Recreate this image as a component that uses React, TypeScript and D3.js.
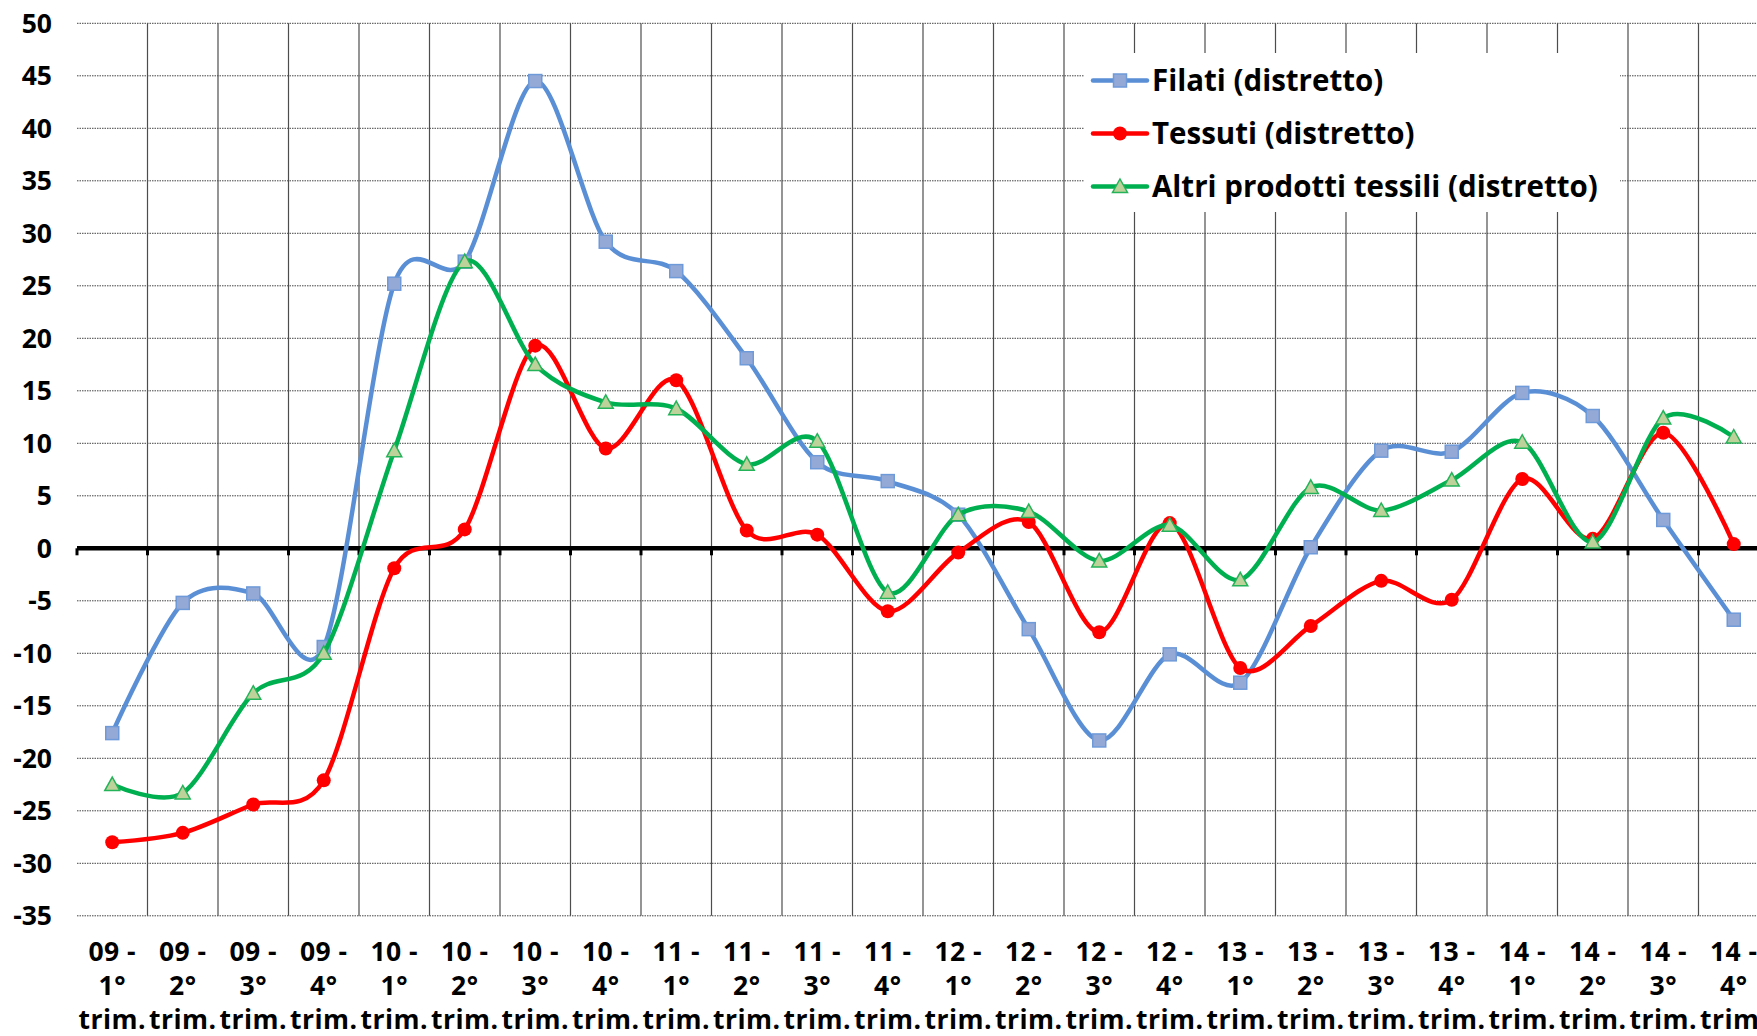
import React from "react";
import * as d3 from "d3";

const categories = [
  "09 - 1° trim.", "09 - 2° trim.", "09 - 3° trim.", "09 - 4° trim.",
  "10 - 1° trim.", "10 - 2° trim.", "10 - 3° trim.", "10 - 4° trim.",
  "11 - 1° trim.", "11 - 2° trim.", "11 - 3° trim.", "11 - 4° trim.",
  "12 - 1° trim.", "12 - 2° trim.", "12 - 3° trim.", "12 - 4° trim.",
  "13 - 1° trim.", "13 - 2° trim.", "13 - 3° trim.", "13 - 4° trim.",
  "14 - 1° trim.", "14 - 2° trim.", "14 - 3° trim.", "14 - 4° trim.",
];

const filati = [
  -17.6, -5.2, -4.3, -9.4, 25.2, 27.3, 44.5, 29.2, 26.4, 18.1, 8.2, 6.4,
  3.2, -7.7, -18.3, -10.1, -12.8, 0.1, 9.3, 9.2, 14.8, 12.6, 2.7, -6.8,
];
const tessuti = [
  -28.0, -27.1, -24.4, -22.1, -1.9, 1.8, 19.3, 9.5, 16.0, 1.7, 1.3, -6.0,
  -0.4, 2.5, -8.0, 2.4, -11.4, -7.4, -3.1, -4.9, 6.6, 0.9, 11.0, 0.4,
];
const altri = [
  -22.5, -23.3, -13.8, -10.0, 9.3, 27.3, 17.5, 13.9, 13.3, 8.0, 10.2, -4.2,
  3.2, 3.5, -1.2, 2.2, -3.0, 5.8, 3.6, 6.5, 10.1, 0.6, 12.4, 10.6,
];

const yTicks = [50, 45, 40, 35, 30, 25, 20, 15, 10, 5, 0, -5, -10, -15, -20, -25, -30, -35];

const seriesNames = ["Filati (distretto)", "Tessuti (distretto)", "Altri prodotti tessili (distretto)"];

const W = 1757;
const H = 1036;
const FONT = "'Open Sans', 'DejaVu Sans', sans-serif";

const series = [
  { name: seriesNames[0], values: filati, color: "#5A8FD6", marker: "square", fill: "#95A9D6", stroke: "#6F9AD9" },
  { name: seriesNames[1], values: tessuti, color: "#FF0000", marker: "circle", fill: "#FF0000", stroke: "#FF0000" },
  { name: seriesNames[2], values: altri, color: "#00B050", marker: "triangle", fill: "#BCD29A", stroke: "#25B35A" },
];

function Marker({ type, cx, cy, fill, stroke }) {
  if (type === "square") {
    return <rect x={cx - 6.5} y={cy - 6.5} width={13} height={13} fill={fill} stroke={stroke} strokeWidth={1.5} />;
  }
  if (type === "circle") {
    return <circle cx={cx} cy={cy} r={7} fill={fill} />;
  }
  const s = 7.5;
  return (
    <path
      d={`M${cx},${cy - s}L${cx + s},${cy + s * 0.8}L${cx - s},${cy + s * 0.8}Z`}
      fill={fill}
      stroke={stroke}
      strokeWidth={1.5}
    />
  );
}

export default function App() {
  const x = d3.scaleBand().domain(categories).range([77, 77 + 24 * 70.5]).padding(0);
  const y = d3.scaleLinear().domain([-35, 50]).range([915.8, 23.3]);
  const cx = (c) => x(c) + x.bandwidth() / 2;

  const line = d3
    .line()
    .x((d, i) => cx(categories[i]))
    .y((d) => y(d))
    .curve(d3.curveCardinal.tension(0.1));

  const [x0, x1] = x.range();
  const boundaries = categories.map((c) => x(c)).concat([x1]);

  return (
    <div style={{ position: "absolute", left: 0, top: 0 }}>
      <svg width={W} height={H} style={{ display: "block", background: "#fff" }}>
        {/* horizontal dotted gridlines */}
        {yTicks.map((t) => (
          <line
            key={"h" + t}
            x1={x0}
            x2={x1}
            y1={y(t)}
            y2={y(t)}
            stroke="#444"
            strokeWidth={1}
            strokeDasharray="1.5 1"
          />
        ))}
        {/* vertical gridlines at category boundaries */}
        {boundaries.slice(1).map((bx, i) => (
          <line key={"v" + i} x1={bx} x2={bx} y1={y(50)} y2={y(-35)} stroke="#4d4d4d" strokeWidth={1.2} />
        ))}

        {/* legend background */}
        <rect x={1084} y={53} width={536} height={159} fill="#fff" />

        {/* zero axis */}
        <line x1={x0} x2={x1} y1={y(0)} y2={y(0)} stroke="#000" strokeWidth={4.5} />
        {boundaries.map((bx, i) => (
          <line key={"t" + i} x1={bx} x2={bx} y1={y(0)} y2={y(0) + 7} stroke="#000" strokeWidth={3} />
        ))}

        {/* y tick labels */}
        {yTicks.map((t) => (
          <text
            key={"yl" + t}
            x={52}
            y={y(t)}
            dy="0.36em"
            textAnchor="end"
            fontFamily={FONT}
            fontWeight="bold"
            fontSize={26.5}
            fill="#000"
          >
            {t}
          </text>
        ))}

        {/* x labels */}
        {categories.map((c) => {
          const parts = c.split(" ");
          const lines = [parts[0] + " " + parts[1], parts[2], parts[3]];
          return (
            <text
              key={"xl" + c}
              x={cx(c)}
              textAnchor="middle"
              fontFamily={FONT}
              fontWeight="bold"
              fontSize={26.5}
              letterSpacing={0.5}
              fill="#000"
            >
              {lines.map((l, i) => (
                <tspan key={i} x={cx(c)} y={961 + i * 34}>
                  {l}
                </tspan>
              ))}
            </text>
          );
        })}

        {/* series */}
        {series.map((s) => (
          <g key={s.name}>
            <path d={line(s.values)} fill="none" stroke={s.color} strokeWidth={4.5} strokeLinejoin="round" />
            {s.values.map((v, i) => (
              <Marker key={i} type={s.marker} cx={cx(categories[i])} cy={y(v)} fill={s.fill} stroke={s.stroke} />
            ))}
          </g>
        ))}

        {/* legend */}
        {series.map((s, i) => {
          const ly = 80.5 + i * 53;
          return (
            <g key={"lg" + s.name}>
              <line x1={1093} x2={1147} y1={ly} y2={ly} stroke={s.color} strokeWidth={4.5} strokeLinecap="round" />
              <Marker type={s.marker} cx={1120} cy={ly} fill={s.fill} stroke={s.stroke} />
              <text x={1152} y={ly + 10.5} fontFamily={FONT} fontWeight="bold" fontSize={29.5} fill="#000">
                {s.name}
              </text>
            </g>
          );
        })}
      </svg>
    </div>
  );
}
